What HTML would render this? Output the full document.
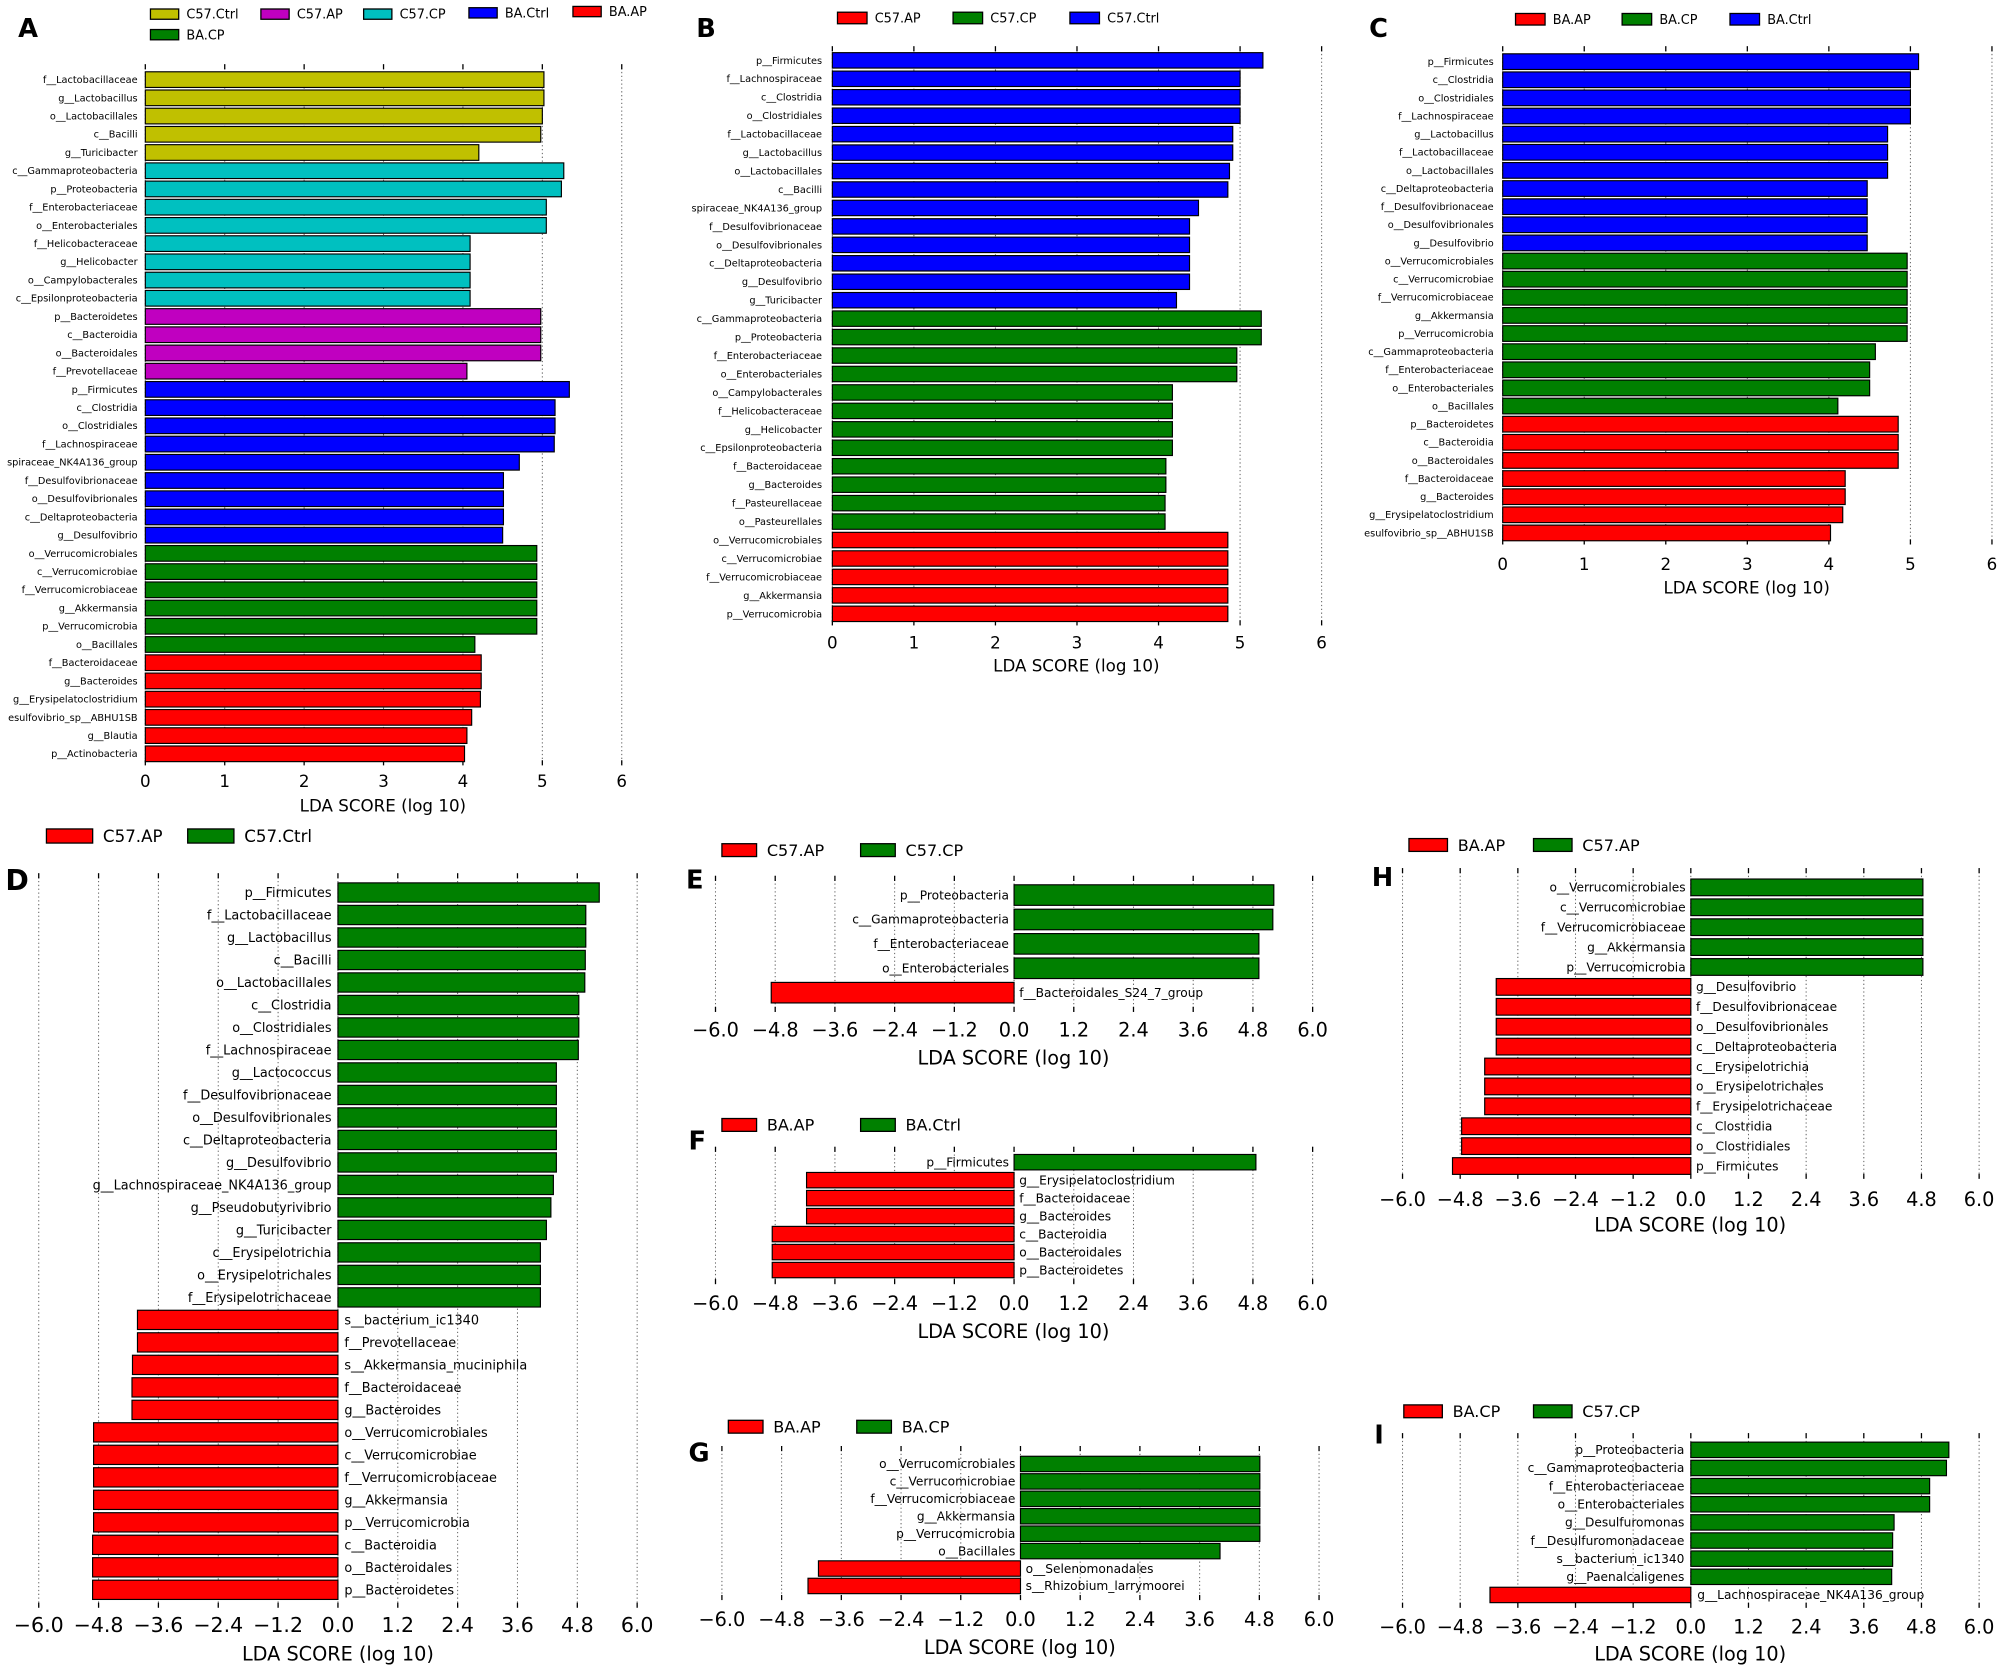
<!DOCTYPE html>
<html><head><meta charset="utf-8">
<style>
html,body{margin:0;padding:0;background:#fff;}
svg{display:block;font-family:"DejaVu Sans","Liberation Sans",sans-serif;}
</style></head>
<body>
<svg id="fig" width="2014" height="1672" viewBox="0 0 1568 1302" xmlns="http://www.w3.org/2000/svg"></svg>
<script>
const COLORS = {r:'#ff0000', g:'#008000', b:'#0000ff', y:'#c0c000', m:'#c000c0', c:'#00c0c0'};

// Panel A
const aLabels = ['f__Lactobacillaceae','g__Lactobacillus','o__Lactobacillales','c__Bacilli','g__Turicibacter','c__Gammaproteobacteria','p__Proteobacteria','f__Enterobacteriaceae','o__Enterobacteriales','f__Helicobacteraceae','g__Helicobacter','o__Campylobacterales','c__Epsilonproteobacteria','p__Bacteroidetes','c__Bacteroidia','o__Bacteroidales','f__Prevotellaceae','p__Firmicutes','c__Clostridia','o__Clostridiales','f__Lachnospiraceae','spiraceae_NK4A136_group','f__Desulfovibrionaceae','o__Desulfovibrionales','c__Deltaproteobacteria','g__Desulfovibrio','o__Verrucomicrobiales','c__Verrucomicrobiae','f__Verrucomicrobiaceae','g__Akkermansia','p__Verrucomicrobia','o__Bacillales','f__Bacteroidaceae','g__Bacteroides','g__Erysipelatoclostridium','esulfovibrio_sp__ABHU1SB','g__Blautia','p__Actinobacteria'];
const aValues = [5.02,5.02,5.00,4.98,4.20,5.27,5.24,5.05,5.05,4.09,4.09,4.09,4.09,4.98,4.98,4.98,4.05,5.34,5.16,5.16,5.15,4.71,4.51,4.51,4.51,4.50,4.93,4.93,4.93,4.93,4.93,4.15,4.23,4.23,4.22,4.11,4.05,4.02];
const aGroups = ['y','y','y','y','y','c','c','c','c','c','c','c','c','m','m','m','m','b','b','b','b','b','b','b','b','b','g','g','g','g','g','g','r','r','r','r','r','r'];
const aTicks = ['0','1','2','3','4','5','6'];

// Panel B
const bLabels = ['p__Firmicutes','f__Lachnospiraceae','c__Clostridia','o__Clostridiales','f__Lactobacillaceae','g__Lactobacillus','o__Lactobacillales','c__Bacilli','spiraceae_NK4A136_group','f__Desulfovibrionaceae','o__Desulfovibrionales','c__Deltaproteobacteria','g__Desulfovibrio','g__Turicibacter','c__Gammaproteobacteria','p__Proteobacteria','f__Enterobacteriaceae','o__Enterobacteriales','o__Campylobacterales','f__Helicobacteraceae','g__Helicobacter','c__Epsilonproteobacteria','f__Bacteroidaceae','g__Bacteroides','f__Pasteurellaceae','o__Pasteurellales','o__Verrucomicrobiales','c__Verrucomicrobiae','f__Verrucomicrobiaceae','g__Akkermansia','p__Verrucomicrobia'];
const bValues = [5.28,5.0,5.0,5.0,4.91,4.91,4.87,4.85,4.49,4.38,4.38,4.38,4.38,4.22,5.26,5.26,4.96,4.96,4.17,4.17,4.17,4.17,4.09,4.09,4.08,4.08,4.85,4.85,4.85,4.85,4.85];
const bGroups = ['b','b','b','b','b','b','b','b','b','b','b','b','b','b','g','g','g','g','g','g','g','g','g','g','g','g','r','r','r','r','r'];

// Panel C
const cLabels = ['p__Firmicutes','c__Clostridia','o__Clostridiales','f__Lachnospiraceae','g__Lactobacillus','f__Lactobacillaceae','o__Lactobacillales','c__Deltaproteobacteria','f__Desulfovibrionaceae','o__Desulfovibrionales','g__Desulfovibrio','o__Verrucomicrobiales','c__Verrucomicrobiae','f__Verrucomicrobiaceae','g__Akkermansia','p__Verrucomicrobia','c__Gammaproteobacteria','f__Enterobacteriaceae','o__Enterobacteriales','o__Bacillales','p__Bacteroidetes','c__Bacteroidia','o__Bacteroidales','f__Bacteroidaceae','g__Bacteroides','g__Erysipelatoclostridium','esulfovibrio_sp__ABHU1SB'];
const cValues = [5.1,5.0,5.0,5.0,4.72,4.72,4.72,4.47,4.47,4.47,4.47,4.96,4.96,4.96,4.96,4.96,4.57,4.5,4.5,4.11,4.85,4.85,4.85,4.2,4.2,4.17,4.02];
const cGroups = ['b','b','b','b','b','b','b','b','b','b','b','g','g','g','g','g','g','g','g','g','r','r','r','r','r','r','r'];

const symTicks = ['\u22126.0','\u22124.8','\u22123.6','\u22122.4','\u22121.2','0.0','1.2','2.4','3.6','4.8','6.0'];

// Panel D
const dLabels = ['p__Firmicutes','f__Lactobacillaceae','g__Lactobacillus','c__Bacilli','o__Lactobacillales','c__Clostridia','o__Clostridiales','f__Lachnospiraceae','g__Lactococcus','f__Desulfovibrionaceae','o__Desulfovibrionales','c__Deltaproteobacteria','g__Desulfovibrio','g__Lachnospiraceae_NK4A136_group','g__Pseudobutyrivibrio','g__Turicibacter','c__Erysipelotrichia','o__Erysipelotrichales','f__Erysipelotrichaceae','s__bacterium_ic1340','f__Prevotellaceae','s__Akkermansia_muciniphila','f__Bacteroidaceae','g__Bacteroides','o__Verrucomicrobiales','c__Verrucomicrobiae','f__Verrucomicrobiaceae','g__Akkermansia','p__Verrucomicrobia','c__Bacteroidia','o__Bacteroidales','p__Bacteroidetes'];
const dValues = [5.24,4.97,4.97,4.96,4.95,4.83,4.83,4.82,4.38,4.38,4.38,4.38,4.38,4.32,4.27,4.18,4.06,4.06,4.06,-4.02,-4.02,-4.12,-4.13,-4.13,-4.90,-4.90,-4.90,-4.90,-4.90,-4.92,-4.92,-4.92];

// Panel E
const eLabels = ['p__Proteobacteria','c__Gammaproteobacteria','f__Enterobacteriaceae','o__Enterobacteriales','f__Bacteroidales_S24_7_group'];
const eValues = [5.22,5.20,4.92,4.92,-4.88];

// Panel F
const fLabels = ['p__Firmicutes','g__Erysipelatoclostridium','f__Bacteroidaceae','g__Bacteroides','c__Bacteroidia','o__Bacteroidales','p__Bacteroidetes'];
const fValues = [4.86,-4.17,-4.17,-4.17,-4.86,-4.86,-4.86];

// Panel G
const gLabels = ['o__Verrucomicrobiales','c__Verrucomicrobiae','f__Verrucomicrobiaceae','g__Akkermansia','p__Verrucomicrobia','o__Bacillales','o__Selenomonadales','s__Rhizobium_larrymoorei'];
const gValues = [4.81,4.81,4.81,4.81,4.81,4.01,-4.06,-4.27];

// Panel H
const hLabels = ['o__Verrucomicrobiales','c__Verrucomicrobiae','f__Verrucomicrobiaceae','g__Akkermansia','p__Verrucomicrobia','g__Desulfovibrio','f__Desulfovibrionaceae','o__Desulfovibrionales','c__Deltaproteobacteria','c__Erysipelotrichia','o__Erysipelotrichales','f__Erysipelotrichaceae','c__Clostridia','o__Clostridiales','p__Firmicutes'];
const hValues = [4.83,4.83,4.83,4.83,4.83,-4.05,-4.05,-4.05,-4.05,-4.29,-4.29,-4.29,-4.77,-4.77,-4.96];

// Panel I
const iLabels = ['p__Proteobacteria','c__Gammaproteobacteria','f__Enterobacteriaceae','o__Enterobacteriales','g__Desulfuromonas','f__Desulfuromonadaceae','s__bacterium_ic1340','g__Paenalcaligenes','g__Lachnospiraceae_NK4A136_group'];
const iValues = [5.37,5.32,4.97,4.97,4.23,4.20,4.20,4.18,-4.18];

const svg = document.getElementById('fig');
const NS = 'http://www.w3.org/2000/svg';
function mk(tag, attrs, parent){
  const e = document.createElementNS(NS, tag);
  for (const k in attrs) e.setAttribute(k, attrs[k]);
  (parent||svg).appendChild(e);
  return e;
}
function txt(parent, x, y, s, size, anchor, weight){
  const t = mk('text', {x:x, y:y, 'font-size':size, 'text-anchor':anchor||'start', 'font-weight':weight||'normal', fill:'#000'}, parent);
  t.textContent = s;
  return t;
}

function panel(cfg){
  const g = mk('g', {});
  
  
  const xs = v => cfg.x0 + v * cfg.unit;
  const L = txt(g, cfg.letterX, cfg.letterY, cfg.id.toUpperCase(), cfg.letterSize, 'start', 'bold');
  
  
  const nT = cfg.ticks.length;
  for (let i = 0; i < nT; i++){
    const v = cfg.tickStart + i * cfg.tickStep;
    const x = xs(v);
    const gl = mk('line', {x1:x, x2:x, y1:cfg.gridTop, y2:cfg.gridBot, stroke:'#666', 'stroke-width':0.8, 'stroke-dasharray':'1,2'}, g);
    
    
    mk('line', {x1:x, x2:x, y1:cfg.gridTop, y2:cfg.gridTop+4, stroke:'#000', 'stroke-width':1}, g);
    mk('line', {x1:x, x2:x, y1:cfg.gridBot-4, y2:cfg.gridBot, stroke:'#000', 'stroke-width':1}, g);
    const tl = txt(g, x, cfg.tickY, cfg.ticks[i], cfg.tickSize, 'middle');
    
    
  }
  const xl = txt(g, cfg.xlabelX, cfg.xlabelY, 'LDA SCORE (log 10)', cfg.xlabelSize, 'middle');
  
  
  for (let i = 0; i < cfg.labels.length; i++){
    const v = cfg.values[i];
    const cy = cfg.y0 + i * cfg.step;
    const xa = xs(Math.min(0, v)), xb = xs(Math.max(0, v));
    const col = cfg.groups ? COLORS[cfg.groups[i]] : (v >= 0 ? COLORS.g : COLORS.r);
    const r = mk('rect', {x:xa, y:cy - cfg.bh/2, width:xb - xa, height:cfg.bh, fill:col, stroke:'#000', 'stroke-width':0.9}, g);
    
    
    let lx, anc;
    if (v >= 0){ lx = xs(0) - cfg.lpad; anc = 'end'; } else { lx = xs(0) + cfg.lpad; anc = 'start'; }
    const lt = txt(g, lx, cy + cfg.lsize*0.35, cfg.labels[i], cfg.lsize, anc);
    
    
  }
  cfg.legend.forEach(le => {
    const sw = mk('rect', {x:le[0], y:le[1]-le[5]/2, width:le[4], height:le[5], fill:COLORS[le[3]], stroke:'#000', 'stroke-width':1}, g);
    
    
    const lt = txt(g, le[0] + le[4] + cfg.legGap, le[1] + cfg.legSize*0.36, le[2], cfg.legSize);
    
    
  });
}

const intTicks = {ticks:aTicks, tickStart:0, tickStep:1};
const symT = {ticks:symTicks, tickStart:-6, tickStep:1.2};

panel(Object.assign({id:'a', labels:aLabels, values:aValues, groups:aGroups, x0:113, unit:(484-113)/6,
  y0:62, step:(587-62)/37, bh:12.2, gridTop:50, gridBot:596, tickY:613, tickSize:13, xlabelX:298, xlabelY:632, xlabelSize:13,
  lpad:6, lsize:7.6, letterX:14, letterY:29, letterSize:20, legSize:10, legGap:6,
  legend:[[117,11,'C57.Ctrl','y',22,8],[203,11,'C57.AP','m',22,8],[283,11,'C57.CP','c',22,8],[365,10,'BA.Ctrl','b',22,8],[446,9,'BA.AP','r',22,8],[117,27,'BA.CP','g',22,8]]}, intTicks));

panel(Object.assign({id:'b', labels:bLabels, values:bValues, groups:bGroups, x0:648, unit:(1029-648)/6,
  y0:47, step:(478-47)/30, bh:12, gridTop:36, gridBot:487, tickY:505, tickSize:13, xlabelX:838, xlabelY:523, xlabelSize:13,
  lpad:8, lsize:7.6, letterX:542, letterY:29, letterSize:20, legSize:10, legGap:6,
  legend:[[652,14,'C57.AP','r',23,9],[742,14,'C57.CP','g',23,9],[833,14,'C57.Ctrl','b',23,9]]}, intTicks));

panel(Object.assign({id:'c', labels:cLabels, values:cValues, groups:cGroups, x0:1170, unit:(1551-1170)/6,
  y0:48, step:(415-48)/26, bh:12.2, gridTop:36, gridBot:424, tickY:444, tickSize:13, xlabelX:1360, xlabelY:462, xlabelSize:13,
  lpad:7, lsize:7.6, letterX:1066, letterY:29, letterSize:20, legSize:10, legGap:6,
  legend:[[1180,15,'BA.AP','r',23,9],[1263,15,'BA.CP','g',23,9],[1347,15,'BA.Ctrl','b',23,9]]}, intTicks));

panel(Object.assign({id:'d', labels:dLabels, values:dValues, x0:263, unit:(496-30)/12,
  y0:695, step:(1238-695)/31, bh:15, gridTop:680, gridBot:1252, tickY:1271, tickSize:16, xlabelX:263, xlabelY:1293, xlabelSize:15,
  lpad:5, lsize:10, letterX:4, letterY:693, letterSize:22, legSize:13, legGap:8,
  legend:[[36,651,'C57.AP','r',36,11],[146,651,'C57.Ctrl','g',36,11]]}, symT));

panel(Object.assign({id:'e', labels:eLabels, values:eValues, x0:789.5, unit:(1022-557)/12,
  y0:697, step:19, bh:16, gridTop:682, gridBot:788, tickY:807, tickSize:15, xlabelX:789, xlabelY:829, xlabelSize:15,
  lpad:4, lsize:9.5, letterX:534, letterY:692, letterSize:20, legSize:12.5, legGap:8,
  legend:[[562,662,'C57.AP','r',27,10],[670,662,'C57.CP','g',27,10]]}, symT));

panel(Object.assign({id:'f', labels:fLabels, values:fValues, x0:789.5, unit:(1022-557)/12,
  y0:905, step:14, bh:12, gridTop:893, gridBot:1000, tickY:1020, tickSize:15, xlabelX:789, xlabelY:1042, xlabelSize:15,
  lpad:4, lsize:9.5, letterX:536, letterY:895, letterSize:20, legSize:12.5, legGap:8,
  legend:[[562,876,'BA.AP','r',27,10],[670,876,'BA.Ctrl','g',27,10]]}, symT));

panel(Object.assign({id:'g', labels:gLabels, values:gValues, x0:794.5, unit:(1027-562)/12,
  y0:1140, step:(1235-1140)/7, bh:12, gridTop:1126, gridBot:1246, tickY:1266, tickSize:15, xlabelX:794, xlabelY:1288, xlabelSize:15,
  lpad:4, lsize:9.5, letterX:536, letterY:1138, letterSize:20, legSize:12.5, legGap:8,
  legend:[[567,1111,'BA.AP','r',27,10],[667,1111,'BA.CP','g',27,10]]}, symT));

panel(Object.assign({id:'h', labels:hLabels, values:hValues, x0:1316.5, unit:(1541-1092)/12,
  y0:691, step:(908-691)/14, bh:13, gridTop:676, gridBot:918, tickY:939, tickSize:15, xlabelX:1316, xlabelY:959, xlabelSize:15,
  lpad:4, lsize:9.5, letterX:1068, letterY:690, letterSize:20, legSize:12.5, legGap:8,
  legend:[[1097,658,'BA.AP','r',30,10],[1194,658,'C57.AP','g',30,10]]}, symT));

panel(Object.assign({id:'i', labels:iLabels, values:iValues, x0:1316.5, unit:(1541-1092)/12,
  y0:1129, step:(1242-1129)/8, bh:12, gridTop:1116, gridBot:1252, tickY:1272, tickSize:15, xlabelX:1316, xlabelY:1293, xlabelSize:15,
  lpad:5, lsize:9.5, letterX:1070, letterY:1124, letterSize:20, legSize:12.5, legGap:8,
  legend:[[1093,1099,'BA.CP','r',30,10],[1194,1099,'C57.CP','g',30,10]]}, symT));
</script>
</body></html>
